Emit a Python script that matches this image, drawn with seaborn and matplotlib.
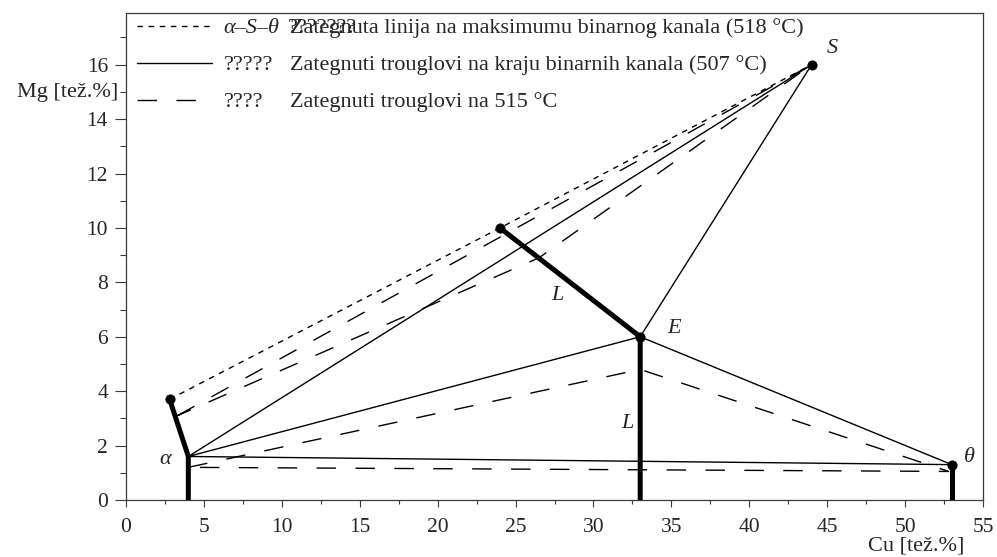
import matplotlib
matplotlib.use("Agg")
import matplotlib.pyplot as plt
from matplotlib.ticker import MultipleLocator
import seaborn as sns

# tie line alpha - L - S at the binary channel maximum (518 C)
tie518_cu = [2.8, 24.0, 44.0]
tie518_mg = [3.7, 10.0, 16.0]

# tie triangles at the end of the binary channels (507 C): a-S-E and a-E-theta
tri507_cu = [4.0, 44.0, 33.0, 53.0, 4.0, 33.0]
tri507_mg = [1.6, 16.0, 6.0, 1.3, 1.6, 6.0]

# tie triangles at 515 C
tri515a_cu = [3.3, 44.0, 26.5, 3.3]
tri515a_mg = [3.1, 16.0, 8.9, 3.1]
tri515b_cu = [4.0, 33.0, 52.8, 4.0]
tri515b_mg = [1.2, 4.8, 1.05, 1.2]

# phase boundaries (thick)
alpha_cu = [2.8, 4.0, 4.0]
alpha_mg = [3.7, 1.6, 0.0]
liq_cu = [24.0, 33.0, 33.0]
liq_mg = [10.0, 6.0, 0.0]
theta_cu = [53.0, 53.0]
theta_mg = [1.3, 0.0]
knob_cu = [2.8, 24.0, 44.0, 53.0, 33.0]
knob_mg = [3.7, 10.0, 16.0, 1.3, 6.0]

# point labels
pt_text = ["S", "E", "L", "L", "α", "θ"]
pt_cu = [45.3, 35.2, 27.7, 32.2, 2.5, 54.1]
pt_mg = [16.6, 6.3, 7.5, 2.8, 1.5, 1.55]

leg_col1 = ["α–S–θ", "?????", "????"]
leg_col2 = ["Zategnuta linija na maksimumu binarnog kanala (518 °C)",
            "Zategnuti trouglovi na kraju binarnih kanala (507 °C)",
            "Zategnuti trouglovi na 515 °C"]

sns.set_style("ticks")
plt.rcParams["font.family"] = ["Liberation Serif", "DejaVu Serif"]
plt.rcParams["axes.edgecolor"] = "#3a3a3a"

fig = plt.figure(figsize=(9.97, 5.57), dpi=100)
ax = fig.add_axes([126 / 997, 57 / 557, 857 / 997, 487 / 557])

short = (4, 4)
long_ = (14, 14)

sns.lineplot(x=tie518_cu, y=tie518_mg, sort=False, estimator=None, ax=ax,
             color="k", lw=1.0, dashes=short)
h518 = ax.lines[-1]
sns.lineplot(x=tri507_cu, y=tri507_mg, sort=False, estimator=None, ax=ax,
             color="k", lw=1.0)
h507 = ax.lines[-1]
sns.lineplot(x=tri515a_cu, y=tri515a_mg, sort=False, estimator=None, ax=ax,
             color="k", lw=1.0, dashes=long_)
h515 = ax.lines[-1]
sns.lineplot(x=tri515b_cu, y=tri515b_mg, sort=False, estimator=None, ax=ax,
             color="k", lw=1.0, dashes=long_)

for cx, cy in [(alpha_cu, alpha_mg), (liq_cu, liq_mg), (theta_cu, theta_mg)]:
    sns.lineplot(x=cx, y=cy, sort=False, estimator=None, ax=ax,
                 color="k", lw=3.6, zorder=4)
sns.scatterplot(x=knob_cu, y=knob_mg, ax=ax, color="k", s=45,
                edgecolor="k", zorder=5)

for t, cx, cy in zip(pt_text, pt_cu, pt_mg):
    ax.text(cx, cy, t, fontsize=16, style="italic", ha="center", va="center")

ax.set_xlim(0, 55)
ax.set_ylim(0, 17.9)
ax.xaxis.set_major_locator(MultipleLocator(5))
ax.xaxis.set_minor_locator(MultipleLocator(2.5))
ax.yaxis.set_major_locator(MultipleLocator(2))
ax.yaxis.set_minor_locator(MultipleLocator(1))
ax.set_yticks(range(0, 17, 2))
ax.tick_params(axis="x", which="major", length=5, width=0.8, pad=8,
               labelsize=15.5, color="#3a3a3a")
ax.tick_params(axis="x", which="minor", length=3, width=0.8, color="#3a3a3a")
ax.tick_params(axis="y", which="major", length=8, width=0.8, pad=5,
               labelsize=15.5, color="#3a3a3a")
ax.tick_params(axis="y", which="minor", length=4.5, width=0.8, color="#3a3a3a")
for sp in ax.spines.values():
    sp.set_linewidth(0.9)

ax.set_ylabel("Mg [tež.%]", fontsize=16, rotation=0, ha="right", va="center")
ax.yaxis.set_label_coords(-0.009, 0.836)
ax.set_xlabel("Cu [tež.%]", fontsize=16, va="center")
ax.xaxis.set_label_coords(0.922, -0.094)

leg = ax.legend([h518, h507, h515], leg_col1, loc="upper left",
                bbox_to_anchor=(6 / 857, 1.0), borderaxespad=0, borderpad=0.22,
                frameon=False, fontsize=16, handlelength=3.4, handletextpad=0.5,
                labelspacing=0.74)
leg.get_texts()[0].set_style("italic")

fig.canvas.draw()
for txt, extra in zip(leg.get_texts(), leg_col2):
    bb = txt.get_window_extent()
    fig.text(290 / 997, bb.y0 / 557, extra, fontsize=16, va="bottom", ha="left")
bb = leg.get_texts()[0].get_window_extent()
fig.text(288 / 997, bb.y0 / 557, "???????", fontsize=16, va="bottom", ha="left")

fig.savefig("out.png", dpi=100)
